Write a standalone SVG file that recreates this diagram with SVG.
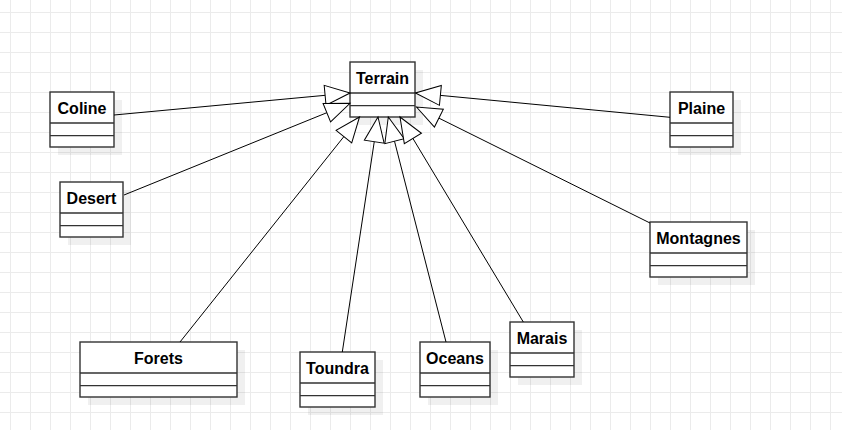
<svg xmlns="http://www.w3.org/2000/svg" width="842" height="430" viewBox="0 0 842 430">
<style>
.shadow{fill:#000;fill-opacity:0.06}
.box{fill:#fff;stroke:#333;stroke-width:1.4}
.div{stroke:#333;stroke-width:1.4;fill:none}
.lbl{font-family:"Liberation Sans",Arial,sans-serif;font-weight:bold;font-size:16px;fill:#000;text-anchor:middle}
.edge{stroke:#000;stroke-width:1;fill:none;marker-end:url(#ext)}
</style>
<defs>
<pattern id="grid" x="0" y="0" width="20" height="20" patternUnits="userSpaceOnUse"><path d="M10.5 0V20M0 12.5H20" stroke="#ebebeb" stroke-width="1" fill="none"/></pattern>
<marker id="ext" markerUnits="userSpaceOnUse" markerWidth="30" markerHeight="24" viewBox="-27 -12 30 24" refX="0" refY="0" orient="auto"><path d="M0,0 L-25,-10 L-25,10 Z" fill="#fff" stroke="#000" stroke-width="1"/></marker>
</defs>
<rect width="842" height="430" fill="#fff"/>
<rect width="842" height="430" fill="url(#grid)"/>
<g id="nodes">
<g id="Terrain"><rect class="shadow" x="358" y="70" width="65" height="55"/><rect class="box" x="350" y="62" width="65" height="55"/><path class="div" d="M350 93H415M350 105.6H415"/><text class="lbl" x="382.5" y="84">Terrain</text></g>
<g id="Coline"><rect class="shadow" x="58" y="100" width="64" height="55"/><rect class="box" x="50" y="92" width="64" height="55"/><path class="div" d="M50 123H114M50 135.6H114"/><text class="lbl" x="82" y="114">Coline</text></g>
<g id="Plaine"><rect class="shadow" x="678" y="100" width="63" height="55"/><rect class="box" x="670" y="92" width="63" height="55"/><path class="div" d="M670 123H733M670 135.6H733"/><text class="lbl" x="701.5" y="114">Plaine</text></g>
<g id="Desert"><rect class="shadow" x="68" y="190" width="63" height="55"/><rect class="box" x="60" y="182" width="63" height="55"/><path class="div" d="M60 213H123M60 225.6H123"/><text class="lbl" x="91.5" y="204">Desert</text></g>
<g id="Montagnes"><rect class="shadow" x="658" y="230" width="97" height="55"/><rect class="box" x="650" y="222" width="97" height="55"/><path class="div" d="M650 253H747M650 265.6H747"/><text class="lbl" x="698.5" y="244">Montagnes</text></g>
<g id="Forets"><rect class="shadow" x="88" y="350" width="157" height="55"/><rect class="box" x="80" y="342" width="157" height="55"/><path class="div" d="M80 373H237M80 385.6H237"/><text class="lbl" x="158.5" y="364">Forets</text></g>
<g id="Toundra"><rect class="shadow" x="308" y="360" width="75" height="55"/><rect class="box" x="300" y="352" width="75" height="55"/><path class="div" d="M300 383H375M300 395.6H375"/><text class="lbl" x="337.5" y="374">Toundra</text></g>
<g id="Oceans"><rect class="shadow" x="428" y="350" width="70" height="55"/><rect class="box" x="420" y="342" width="70" height="55"/><path class="div" d="M420 373H490M420 385.6H490"/><text class="lbl" x="455" y="364">Oceans</text></g>
<g id="Marais"><rect class="shadow" x="518" y="330" width="64" height="55"/><rect class="box" x="510" y="322" width="64" height="55"/><path class="div" d="M510 353H574M510 365.6H574"/><text class="lbl" x="542" y="344">Marais</text></g>
</g>
<g id="connectors">
<line class="edge" x1="114" y1="115" x2="350" y2="93"/>
<line class="edge" x1="124" y1="195" x2="350" y2="103.3"/>
<line class="edge" x1="180" y1="342" x2="359.5" y2="117"/>
<line class="edge" x1="342.3" y1="352" x2="378" y2="117"/>
<line class="edge" x1="446" y1="342" x2="388.3" y2="117"/>
<line class="edge" x1="523.3" y1="322" x2="400" y2="117"/>
<line class="edge" x1="650" y1="223" x2="416.5" y2="107"/>
<line class="edge" x1="670" y1="117.3" x2="415.5" y2="93"/>
</g>
</svg>
